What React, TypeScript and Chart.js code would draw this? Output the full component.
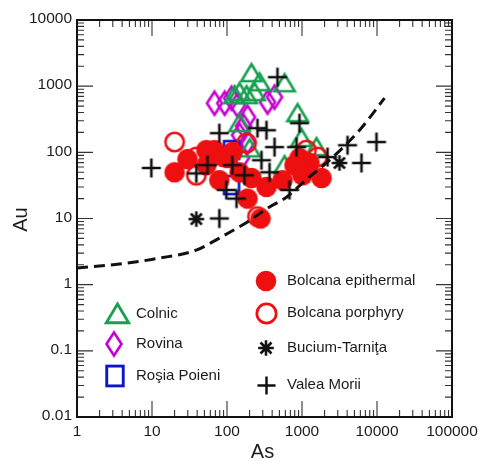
import React, { useEffect, useRef } from 'react';
import { Chart, registerables } from 'chart.js';

Chart.register(...registerables);

// ---- axis ticks ----
const xTickValues = [1, 10, 100, 1000, 10000, 100000];
const xTickLabels = ['1', '10', '100', '1000', '10000', '100000'];
const yTickValues = [0.01, 0.1, 1, 10, 100, 1000, 10000];
const yTickLabels = ['0.01', '0.1', '1', '10', '100', '1000', '10000'];

// ---- series (As, Au) ----
const bolcanaEpiAs = [20, 29.7, 53, 68, 90, 118, 79, 147, 212, 336, 188, 280, 550, 794, 926, 1016, 1259, 1820, 102, 53];
const bolcanaEpiAu = [50, 79, 64, 108, 85, 101, 38, 50, 41, 30, 20, 10, 38, 64, 82, 45, 69, 41, 82, 108];

const bolcanaPorAs = [20, 39, 39, 182, 255, 1148, 1610];
const bolcanaPorAu = [143, 85, 45, 138, 10.7, 108, 85];

const colnicAs = [212, 271, 585, 147, 233, 126, 182, 871, 147, 984, 1560, 585, 200];
const colnicAu = [1571, 1148, 1109, 811, 811, 731, 731, 391, 276, 164, 120, 64, 115];

const rovinaAs = [68, 93, 115, 138, 347, 430, 188, 166, 147, 188, 156];
const rovinaAu = [553, 553, 659, 516, 573, 682, 340, 249, 182, 143, 82];

const rosiaAs = [115, 115];
const rosiaAu = [108, 32];

const valeaAs = [9.8, 79, 55, 39, 98, 134, 79, 471, 255, 336, 288, 430, 369, 845, 926, 681, 118, 4045, 9840, 6210, 2188, 171];
const valeaAu = [58, 195, 64, 48, 27, 20, 10, 1368, 232, 216, 76, 120, 50, 120, 276, 27, 64, 128, 143, 69, 85, 45];

const buciumAs = [39, 3162];
const buciumAu = [9.8, 69];

const curveAs = [1, 3.7, 12.6, 39, 79, 176, 369, 621, 1148, 2327, 5843, 12600];
const curveAu = [1.78, 2.05, 2.52, 3.33, 5.06, 8.5, 14.9, 21, 39, 76, 216, 660];

const legendLabels = ['Colnic', 'Rovina', 'Roşia Poieni', 'Bolcana epithermal', 'Bolcana porphyry', 'Bucium-Tarniţa', 'Valea Morii'];

const RED = 'rgb(238,16,16)';
const GREEN = 'rgb(22,160,80)';
const MAGENTA = 'rgb(200,0,210)';
const BLUE = 'rgb(10,20,200)';
const BLACK = '#111';

type Kind = 'dot' | 'ring' | 'tri' | 'dia' | 'sq' | 'plus' | 'star';

function makeMarker(kind: Kind, s: number): HTMLCanvasElement {
  const c = document.createElement('canvas');
  const sizes: Record<Kind, [number, number]> = {
    dot: [24, 24], ring: [24, 24], tri: [26, 24], dia: [20, 28], sq: [20, 24], plus: [24, 24], star: [20, 20],
  };
  const [w0, h0] = sizes[kind];
  const w = Math.round(w0 * s), h = Math.round(h0 * s);
  c.width = w; c.height = h;
  const ctx = c.getContext('2d')!;
  ctx.lineWidth = 2.6 * Math.min(s, 1.1);
  ctx.lineJoin = 'miter';
  const cx = w / 2, cy = h / 2;
  switch (kind) {
    case 'dot':
      ctx.fillStyle = RED; ctx.beginPath(); ctx.arc(cx, cy, 10.3 * s, 0, Math.PI * 2); ctx.fill(); break;
    case 'ring':
      ctx.strokeStyle = RED; ctx.beginPath(); ctx.arc(cx, cy, 9.2 * s, 0, Math.PI * 2); ctx.stroke(); break;
    case 'tri':
      ctx.strokeStyle = GREEN; ctx.beginPath();
      ctx.moveTo(cx, cy - 9 * s); ctx.lineTo(cx + 10.2 * s, cy + 8 * s); ctx.lineTo(cx - 10.2 * s, cy + 8 * s); ctx.closePath(); ctx.stroke(); break;
    case 'dia':
      ctx.strokeStyle = MAGENTA; ctx.beginPath();
      ctx.moveTo(cx, cy - 11.5 * s); ctx.lineTo(cx + 7.5 * s, cy); ctx.lineTo(cx, cy + 11.5 * s); ctx.lineTo(cx - 7.5 * s, cy); ctx.closePath(); ctx.stroke(); break;
    case 'sq':
      ctx.strokeStyle = BLUE; ctx.strokeRect(cx - 7.5 * s, cy - 9 * s, 15 * s, 18 * s); break;
    case 'plus':
      ctx.strokeStyle = BLACK; ctx.beginPath();
      ctx.moveTo(cx - 9.5 * s, cy); ctx.lineTo(cx + 9.5 * s, cy); ctx.moveTo(cx, cy - 9.5 * s); ctx.lineTo(cx, cy + 9.5 * s); ctx.stroke(); break;
    case 'star':
      ctx.strokeStyle = BLACK; ctx.beginPath();
      for (let i = 0; i < 4; i++) {
        const a = (i * Math.PI) / 4;
        const r = 7.8 * s;
        ctx.moveTo(cx - r * Math.cos(a), cy - r * Math.sin(a));
        ctx.lineTo(cx + r * Math.cos(a), cy + r * Math.sin(a));
      }
      ctx.stroke(); break;
  }
  return c;
}

function pts(xs: number[], ys: number[]) {
  return xs.map((x, i) => ({ x, y: ys[i] }));
}

const FONT = '"Liberation Sans", Arial, Helvetica, sans-serif';
const TEXT = '#1c1c1c';

export default function App() {
  const ref = useRef<HTMLCanvasElement>(null);

  useEffect(() => {
    const canvas = ref.current!;
    const m: Record<Kind, HTMLCanvasElement> = {
      dot: makeMarker('dot', 1), ring: makeMarker('ring', 1), tri: makeMarker('tri', 1), dia: makeMarker('dia', 1),
      sq: makeMarker('sq', 1), plus: makeMarker('plus', 1), star: makeMarker('star', 1),
    };
    const lg: Record<Kind, HTMLCanvasElement> = {
      dot: makeMarker('dot', 1), ring: makeMarker('ring', 1.05), tri: makeMarker('tri', 1.1), dia: makeMarker('dia', 1.0),
      sq: makeMarker('sq', 1.1), plus: makeMarker('plus', 0.95), star: makeMarker('star', 1),
    };

    const framePlugin = {
      id: 'frameTicks',
      beforeDatasetsDraw(chart: any) {
        const { ctx, chartArea: a, scales } = chart;
        const xs = scales.x, ys = scales.y;
        ctx.save();
        ctx.strokeStyle = '#333';
        ctx.lineWidth = 1.1;
        ctx.beginPath();
        for (let e = 0; e < 5; e++) {
          for (let k = 1; k <= 9; k++) {
            const v = k * Math.pow(10, e);
            const px = xs.getPixelForValue(v);
            const len = k === 1 ? 16 : 7;
            ctx.moveTo(px, a.bottom); ctx.lineTo(px, a.bottom - len);
            ctx.moveTo(px, a.top); ctx.lineTo(px, a.top + len);
          }
        }
        for (let e = -2; e < 4; e++) {
          for (let k = 1; k <= 9; k++) {
            const v = k * Math.pow(10, e);
            const py = ys.getPixelForValue(v);
            const len = k === 1 ? 16 : 7;
            ctx.moveTo(a.left, py); ctx.lineTo(a.left + len, py);
            ctx.moveTo(a.right, py); ctx.lineTo(a.right - len, py);
          }
        }
        ctx.stroke();
        ctx.lineWidth = 2;
        ctx.strokeStyle = '#111';
        ctx.strokeRect(a.left, a.top, a.right - a.left, a.bottom - a.top);
        ctx.restore();
      },
      afterDraw(chart: any) {
        const { ctx, chartArea: a, scales } = chart;
        const xs = scales.x, ys = scales.y;
        ctx.save();
        ctx.fillStyle = TEXT;
        ctx.font = `15.5px ${FONT}`;
        ctx.textAlign = 'center';
        ctx.textBaseline = 'middle';
        xTickValues.forEach((v, i) => {
          ctx.fillText(xTickLabels[i], xs.getPixelForValue(v), a.bottom + 15);
        });
        ctx.textAlign = 'right';
        yTickValues.forEach((v, i) => {
          ctx.fillText(yTickLabels[i], a.left - 5, ys.getPixelForValue(v) - 1);
        });
        ctx.font = `20px ${FONT}`;
        ctx.textAlign = 'center';
        ctx.fillText('As', (a.left + a.right) / 2 - 2, a.bottom + 35);
        ctx.save();
        ctx.translate(21, (a.top + a.bottom) / 2 + 1);
        ctx.rotate(-Math.PI / 2);
        ctx.fillText('Au', 0, 0);
        ctx.restore();

        // legend
        const items: [Kind, number, number][] = [
          ['tri', 117, 314], ['dia', 114, 344], ['sq', 115, 376],
          ['dot', 266, 281], ['ring', 266, 313], ['star', 266, 348], ['plus', 266, 385],
        ];
        ctx.font = `15px ${FONT}`;
        ctx.textAlign = 'left';
        items.forEach(([k, x, y], i) => {
          const img = lg[k];
          ctx.drawImage(img, Math.round(x - img.width / 2), Math.round(y - img.height / 2));
          const tx = i < 3 ? 136 : 287;
          ctx.fillText(legendLabels[i], tx, y);
        });
        ctx.restore();
      },
    };

    const ds = (label: string, xsArr: number[], ysArr: number[], style: HTMLCanvasElement, order: number) => ({
      type: 'scatter' as const,
      label,
      data: pts(xsArr, ysArr),
      pointStyle: style,
      pointRadius: 8,
      order,
      clip: false as any,
    });

    const chart = new Chart(canvas, {
      type: 'scatter',
      data: {
        datasets: [
          {
            type: 'line',
            label: 'curve',
            data: pts(curveAs, curveAu),
            borderColor: '#111',
            borderWidth: 3,
            borderDash: [11, 6],
            pointRadius: 0,
            fill: false,
            cubicInterpolationMode: 'monotone',
            order: 0,
          } as any,
          ds(legendLabels[6], valeaAs, valeaAu, m.plus, 1),
          ds(legendLabels[5], buciumAs, buciumAu, m.star, 1),
          ds(legendLabels[4], bolcanaPorAs, bolcanaPorAu, m.ring, 2),
          ds(legendLabels[3], bolcanaEpiAs, bolcanaEpiAu, m.dot, 3),
          ds(legendLabels[2], rosiaAs, rosiaAu, m.sq, 4),
          ds(legendLabels[0], colnicAs, colnicAu, m.tri, 5),
          ds(legendLabels[1], rovinaAs, rovinaAu, m.dia, 6),
        ],
      },
      options: {
        responsive: false,
        animation: false,
        devicePixelRatio: 1,
        events: [],
        layout: { padding: { left: 77, right: 28, top: 20, bottom: 44 } },
        plugins: { legend: { display: false }, tooltip: { enabled: false } },
        scales: {
          x: { type: 'logarithmic', min: 1, max: 100000, display: false },
          y: { type: 'logarithmic', min: 0.01, max: 10000, display: false },
        },
      },
      plugins: [framePlugin],
    });
    return () => chart.destroy();
  }, []);

  return (
    <div style={{ position: 'absolute', left: 0, top: 0, width: 480, height: 461, background: '#fff' }}>
      <canvas ref={ref} width={480} height={461} style={{ display: 'block', width: 480, height: 461 }} />
    </div>
  );
}
